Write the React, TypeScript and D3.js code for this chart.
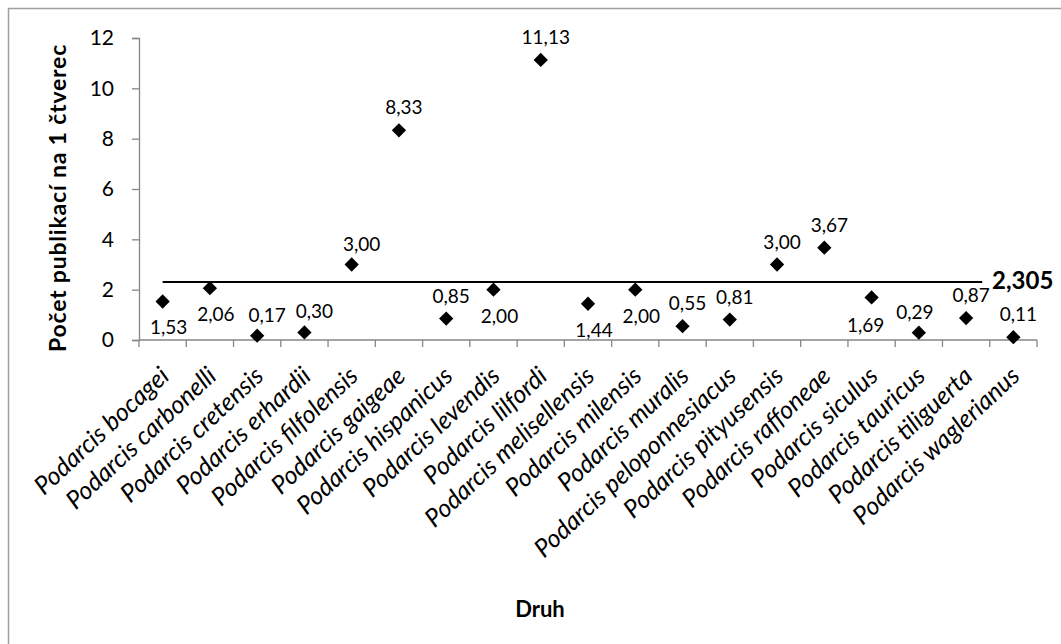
import React, { useEffect, useRef } from "react";
import * as d3 from "d3";

const species = [
  "Podarcis bocagei",
  "Podarcis carbonelli",
  "Podarcis cretensis",
  "Podarcis erhardii",
  "Podarcis filfolensis",
  "Podarcis gaigeae",
  "Podarcis hispanicus",
  "Podarcis levendis",
  "Podarcis lilfordi",
  "Podarcis melisellensis",
  "Podarcis milensis",
  "Podarcis muralis",
  "Podarcis peloponnesiacus",
  "Podarcis pityusensis",
  "Podarcis raffoneae",
  "Podarcis siculus",
  "Podarcis tauricus",
  "Podarcis tiliguerta",
  "Podarcis waglerianus",
];

const values = [
  1.53, 2.06, 0.17, 0.3, 3.0, 8.33, 0.85, 2.0, 11.13, 1.44, 2.0, 0.55, 0.81,
  3.0, 3.67, 1.69, 0.29, 0.87, 0.11,
];

// where Excel put each data label
const labelSide = [
  "below", "below", "aboveRight", "aboveRight", "aboveRight", "above",
  "above", "below", "above", "below", "below", "above", "above", "above",
  "above", "belowLeft", "aboveLeft", "above", "above",
];

const yTicks = [0, 2, 4, 6, 8, 10, 12];
const meanValue = 2.305;
const meanLabel = "2,305";

const fmt = (v: number) => v.toFixed(2).replace(".", ",");

const App = () => {
  const svgRef = useRef<SVGSVGElement>(null);

  useEffect(() => {
    const svg = d3.select(svgRef.current);
    svg.selectAll("*").remove();

    const W = 1061;
    const H = 644;
    const left = 139;
    const right = 1037;
    const top = 38;
    const bottom = 340;
    const font = "Lato, 'Open Sans', sans-serif";

    // chart frame (only left/top edges show in the picture)
    svg.append("rect")
      .attr("x", 8.5).attr("y", 8.5)
      .attr("width", W + 20).attr("height", H + 20)
      .attr("fill", "#fff").attr("stroke", "#a0a0a0").attr("stroke-width", 1.5);

    const x = d3.scaleBand().domain(species).range([left, right]);
    const y = d3.scaleLinear().domain([0, 12]).range([bottom, top]);

    // y axis
    const yAxis = svg.append("g")
      .attr("transform", `translate(${left},0)`)
      .call(d3.axisLeft(y).tickValues(yTicks).tickSize(7).tickPadding(18).tickFormat(d3.format("d")));
    yAxis.select(".domain").attr("stroke", "#868686").attr("stroke-width", 1.3);
    yAxis.selectAll(".tick line").attr("stroke", "#868686").attr("stroke-width", 1.3);
    yAxis.selectAll("text")
      .attr("font-family", font).attr("font-size", 21).attr("fill", "#000");

    // x axis: ticks on band edges
    const xg = svg.append("g").attr("transform", `translate(0,${bottom})`);
    xg.append("line")
      .attr("x1", left).attr("x2", right)
      .attr("stroke", "#868686").attr("stroke-width", 1.3);
    const edges = species.map((s) => x(s)!).concat([right]);
    xg.selectAll("line.tk").data(edges).enter().append("line")
      .attr("class", "tk")
      .attr("x1", (d) => d).attr("x2", (d) => d)
      .attr("y1", 0).attr("y2", 7)
      .attr("stroke", "#868686").attr("stroke-width", 1.3);

    xg.selectAll("text.cat").data(species).enter().append("text")
      .attr("class", "cat")
      .attr("transform", (d) => `translate(${x(d)! + x.bandwidth() / 2 + 8},${38}) rotate(-43)`)
      .attr("text-anchor", "end")
      .attr("font-family", font).attr("font-style", "italic").attr("font-size", 25)
      .text((d) => d);

    // mean line
    const cx = (i: number) => x(species[i])! + x.bandwidth() / 2;
    svg.append("line")
      .attr("x1", cx(0)).attr("x2", cx(17) + x.bandwidth() * 0.34)
      .attr("y1", y(meanValue)).attr("y2", y(meanValue))
      .attr("stroke", "#000").attr("stroke-width", 2);
    svg.append("text")
      .attr("x", 992).attr("y", y(meanValue) + 7)
      .attr("font-family", font).attr("font-weight", "bold").attr("font-size", 24)
      .text(meanLabel);

    // markers
    const diamond = d3.symbol().type(d3.symbolDiamond2).size(130);
    svg.selectAll("path.pt").data(values).enter().append("path")
      .attr("class", "pt")
      .attr("d", diamond)
      .attr("transform", (d, i) => `translate(${cx(i)},${y(d)})`)
      .attr("fill", "#000");

    // data labels
    const off: Record<string, [number, number]> = {
      above: [5, -16],
      aboveRight: [10, -14],
      aboveLeft: [-4, -14],
      below: [6, 33],
      belowLeft: [-6, 35],
    };
    svg.selectAll("text.lbl").data(values).enter().append("text")
      .attr("class", "lbl")
      .attr("x", (d, i) => cx(i) + off[labelSide[i]][0])
      .attr("y", (d, i) => y(d) + off[labelSide[i]][1])
      .attr("text-anchor", "middle")
      .attr("font-family", font).attr("font-size", 19)
      .text((d) => fmt(d));

    // axis titles
    svg.append("text")
      .attr("transform", `translate(66,${(top + bottom) / 2 + 9}) rotate(-90)`)
      .attr("text-anchor", "middle")
      .attr("font-family", font).attr("font-weight", "bold").attr("font-size", 23)
      .attr("letter-spacing", 0.8)
      .text("Počet publikací na 1 čtverec");
    svg.append("text")
      .attr("x", 540).attr("y", 617)
      .attr("text-anchor", "middle")
      .attr("font-family", font).attr("font-weight", "bold").attr("font-size", 22)
      .text("Druh");
  }, []);

  return (
    <div style={{ position: "absolute", left: 0, top: 0 }}>
      <svg ref={svgRef} width={1061} height={644} style={{ display: "block" }} />
    </div>
  );
};

export default App;
